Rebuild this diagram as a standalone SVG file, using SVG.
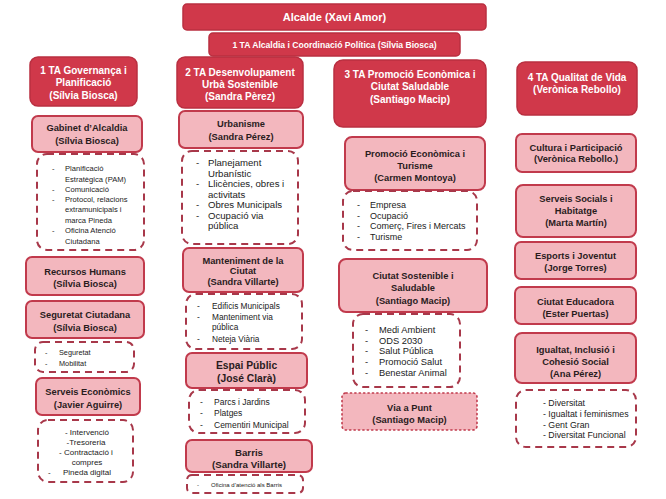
<svg xmlns="http://www.w3.org/2000/svg" width="666" height="499" viewBox="0 0 666 499">
<style>
text{font-family:"Liberation Sans",Arial,sans-serif}
.h{fill:#d0384a;stroke:#b92f40;stroke-width:1.5}
.ht{fill:#fff;font-weight:bold;font-size:10px;text-anchor:middle}
.b{fill:#f3b7be;stroke:#c13a4c;stroke-width:2}
.bt{fill:#2a1c1d;font-weight:bold;font-size:9.3px;text-anchor:middle}
.d{fill:#fff;stroke:#a8384a;stroke-width:2;stroke-dasharray:7 5}
.v{fill:#f3b7be;stroke:#c0394b;stroke-width:1.6;stroke-dasharray:1.2 3.2;stroke-linecap:round}
.li{fill:#222;font-size:8px}
.c{text-anchor:middle}
</style>
<rect width="666" height="499" fill="#fff"/>
<g id="connectors"/>
<g id="alcalde"><rect class="h" x="183" y="4" width="303" height="26" rx="4"/><text class="ht" x="334.5" y="21" style="font-size:11px">Alcalde (Xavi Amor)</text></g>
<g id="ta-alcaldia"><rect class="h" x="209" y="33" width="251" height="23" rx="4"/><text class="ht" x="334.5" y="48" style="font-size:8.6px">1 TA Alcaldia i Coordinació Política (Sílvia Biosca)</text></g>

<g id="ta1"><rect class="h" x="30" y="57" width="107" height="49" rx="8"/><text class="ht" x="83.5" y="73.5">1 TA Governança i</text><text class="ht" x="83.5" y="85.5">Planificació</text><text class="ht" x="83.5" y="99">(Sílvia Biosca)</text></g>
<g id="gabinet"><rect class="b" x="32" y="116" width="110" height="36" rx="6"/><text class="bt" x="87" y="131">Gabinet d’Alcaldia</text><text class="bt" x="87" y="143.5">(Sílvia Biosca)</text></g>
<g id="gabinet-list"><rect class="d" x="37" y="154" width="107" height="96" rx="10"/>
<g class="li" style="font-size:7.6px"><text x="52" y="171">-</text><text x="65" y="171">Planificació</text><text x="65" y="181.5">Estratègica (PAM)</text><text x="52" y="191.5">-</text><text x="65" y="191.5">Comunicació</text><text x="52" y="201.5">-</text><text x="65" y="201.5">Protocol, relacions</text><text x="65" y="212">extramunicipals i</text><text x="65" y="222.5">marca Pineda</text><text x="52" y="233">-</text><text x="65" y="233">Oficina Atenció</text><text x="65" y="243.5">Ciutadana</text></g></g>
<g id="rrhh"><rect class="b" x="26" y="257" width="118" height="38" rx="6"/><text class="bt" x="85" y="274.5">Recursos Humans</text><text class="bt" x="85" y="287">(Sílvia Biosca)</text></g>
<g id="seguretat"><rect class="b" x="26" y="301" width="118" height="37" rx="6"/><text class="bt" x="85" y="318">Seguretat Ciutadana</text><text class="bt" x="85" y="331">(Sílvia Biosca)</text></g>
<g id="seguretat-list"><rect class="d" x="35" y="342" width="99" height="30" rx="8"/>
<g class="li" style="font-size:7.3px"><text x="45" y="355">-</text><text x="59" y="355">Seguretat</text><text x="45" y="366">-</text><text x="59" y="366">Mobilitat</text></g></g>
<g id="economics"><rect class="b" x="36" y="378" width="104" height="37" rx="6"/><text class="bt" x="88" y="395">Serveis Econòmics</text><text class="bt" x="88" y="408">(Javier Aguirre)</text></g>
<g id="economics-list"><rect class="d" x="38" y="420" width="95" height="62" rx="10"/>
<g class="li"><text class="c" x="87" y="435">- Intervenció</text><text class="c" x="86" y="445">-Tresoreria</text><text class="c" x="86" y="455">- Contractació i</text><text class="c" x="87" y="465">compres</text><text x="48" y="475">-</text><text class="c" x="87" y="475">Pineda digital</text></g></g>

<g id="ta2"><rect class="h" x="177" y="57" width="126" height="51" rx="8"/><text class="ht" x="240" y="75.5">2 TA Desenvolupament</text><text class="ht" x="240" y="87.5">Urbà Sostenible</text><text class="ht" x="240" y="100">(Sandra Pèrez)</text></g>
<g id="urbanisme"><rect class="b" x="179" y="111" width="124" height="37" rx="6"/><text class="bt" x="241" y="127">Urbanisme</text><text class="bt" x="241" y="140">(Sandra Pérez)</text></g>
<g id="urbanisme-list"><rect class="d" x="182" y="151" width="116" height="93" rx="10"/>
<g class="li" style="font-size:9.6px"><text x="196" y="166">-</text><text x="208" y="166">Planejament</text><text x="208" y="176.5">Urbanístic</text><text x="196" y="187">-</text><text x="208" y="187">Llicències, obres i</text><text x="208" y="197.5">activitats</text><text x="196" y="208">-</text><text x="208" y="208">Obres Municipals</text><text x="196" y="218.5">-</text><text x="208" y="218.5">Ocupació via</text><text x="208" y="229">pública</text></g></g>
<g id="manteniment"><rect class="b" x="183" y="248" width="120" height="44" rx="6"/><text class="bt" x="243" y="263.5">Manteniment de la</text><text class="bt" x="243" y="274">Ciutat</text><text class="bt" x="243" y="285">(Sandra Villarte)</text></g>
<g id="manteniment-list"><rect class="d" x="186" y="294" width="116" height="55" rx="10"/>
<g class="li" style="font-size:8.3px"><text x="197" y="309">-</text><text x="212" y="309">Edificis Municipals</text><text x="197" y="319.5">-</text><text x="212" y="319.5">Manteniment via</text><text x="212" y="330">pública</text><text x="197" y="341.5">-</text><text x="212" y="341.5">Neteja Viària</text></g></g>
<g id="espai"><rect class="b" x="186" y="353" width="121" height="35" rx="6"/><text class="bt" x="246.5" y="369" style="font-size:10.3px">Espai Públic</text><text class="bt" x="246.5" y="382" style="font-size:10.3px">(José Clarà)</text></g>
<g id="espai-list"><rect class="d" x="189" y="390" width="116" height="43" rx="10"/>
<g class="li" style="font-size:8.5px"><text x="200" y="405">-</text><text x="214" y="405">Parcs i Jardins</text><text x="200" y="416">-</text><text x="214" y="416">Platges</text><text x="200" y="428">-</text><text x="214" y="428">Cementiri Municipal</text></g></g>
<g id="barris"><rect class="b" x="186" y="440" width="126" height="32" rx="6"/><text class="bt" x="249" y="455.5" style="font-size:9.7px">Barris</text><text class="bt" x="249" y="467.5" style="font-size:9.7px">(Sandra Villarte)</text></g>
<g id="barris-list"><rect class="d" x="187" y="475" width="116" height="18" rx="5"/>
<g class="li" style="font-size:6px"><text x="197" y="487">-</text><text x="211" y="487">Oficina d’atenció  als Barris</text></g></g>

<g id="ta3"><rect class="h" x="334" y="60" width="152" height="67" rx="9"/><text class="ht" x="410" y="77.5">3 TA Promoció Econòmica i</text><text class="ht" x="410" y="89.5">Ciutat Saludable</text><text class="ht" x="410" y="102.5">(Santiago Macip)</text></g>
<g id="promocio"><rect class="b" x="345" y="137" width="140" height="53" rx="7"/><text class="bt" x="415" y="156.5">Promoció Econòmica i</text><text class="bt" x="415" y="168.5">Turisme</text><text class="bt" x="415" y="180.5">(Carmen Montoya)</text></g>
<g id="promocio-list"><rect class="d" x="343" y="191" width="134" height="59" rx="10"/>
<g class="li" style="font-size:9px"><text x="357" y="208">-</text><text x="370" y="208">Empresa</text><text x="357" y="218.5">-</text><text x="370" y="218.5">Ocupació</text><text x="357" y="229">-</text><text x="370" y="229">Comerç, Fires i Mercats</text><text x="357" y="240">-</text><text x="370" y="240">Turisme</text></g></g>
<g id="sostenible"><rect class="b" x="339" y="259" width="148" height="53" rx="7"/><text class="bt" x="413" y="278.5">Ciutat Sostenible i</text><text class="bt" x="413" y="291">Saludable</text><text class="bt" x="413" y="303.5">(Santiago Macip)</text></g>
<g id="sostenible-list"><rect class="d" x="353" y="314" width="107" height="73" rx="10"/>
<g class="li" style="font-size:9.3px"><text x="365" y="333">-</text><text x="379" y="333">Medi Ambient</text><text x="365" y="343.5">-</text><text x="379" y="343.5">ODS 2030</text><text x="365" y="354">-</text><text x="379" y="354">Salut Pública</text><text x="365" y="365">-</text><text x="379" y="365">Promoció Salut</text><text x="365" y="376">-</text><text x="379" y="376">Benestar Animal</text></g></g>
<g id="via-punt"><rect class="v" x="342" y="393" width="135" height="37" rx="4"/><text class="bt" x="409.5" y="410.5">Via a Punt</text><text class="bt" x="409.5" y="422.5">(Santiago Macip)</text></g>

<g id="ta4"><rect class="h" x="517" y="62" width="120" height="53" rx="8"/><text class="ht" x="577" y="81">4 TA Qualitat de Vida</text><text class="ht" x="577" y="93">(Verònica Rebollo)</text></g>
<g id="cultura"><rect class="b" x="516" y="134" width="120" height="38" rx="6"/><text class="bt" x="576" y="150.5">Cultura i Participació</text><text class="bt" x="576" y="162">(Verònica Rebollo.)</text></g>
<g id="socials"><rect class="b" x="516" y="185" width="120" height="52" rx="7"/><text class="bt" x="576" y="201.5">Serveis Socials i</text><text class="bt" x="576" y="213.5">Habitatge</text><text class="bt" x="576" y="225.5">(Marta Martín)</text></g>
<g id="esports"><rect class="b" x="515" y="242" width="121" height="37" rx="6"/><text class="bt" x="575.5" y="258.5">Esports i Joventut</text><text class="bt" x="575.5" y="270.5">(Jorge Torres)</text></g>
<g id="educadora"><rect class="b" x="515" y="287" width="121" height="37" rx="6"/><text class="bt" x="575.5" y="305">Ciutat Educadora</text><text class="bt" x="575.5" y="317">(Ester Puertas)</text></g>
<g id="igualtat"><rect class="b" x="515" y="333" width="121" height="50" rx="7"/><text class="bt" x="575.5" y="352.5">Igualtat, Inclusió i</text><text class="bt" x="575.5" y="365">Cohesió Social</text><text class="bt" x="575.5" y="377">(Ana Pérez)</text></g>
<g id="igualtat-list"><rect class="d" x="516" y="390" width="120" height="57" rx="10"/>
<g class="li" style="font-size:8.8px"><text x="543" y="406">- Diversitat</text><text x="543" y="417">- Igualtat i feminismes</text><text x="543" y="427.5">- Gent Gran</text><text x="543" y="438">- Diversitat Funcional</text></g></g>
</svg>
